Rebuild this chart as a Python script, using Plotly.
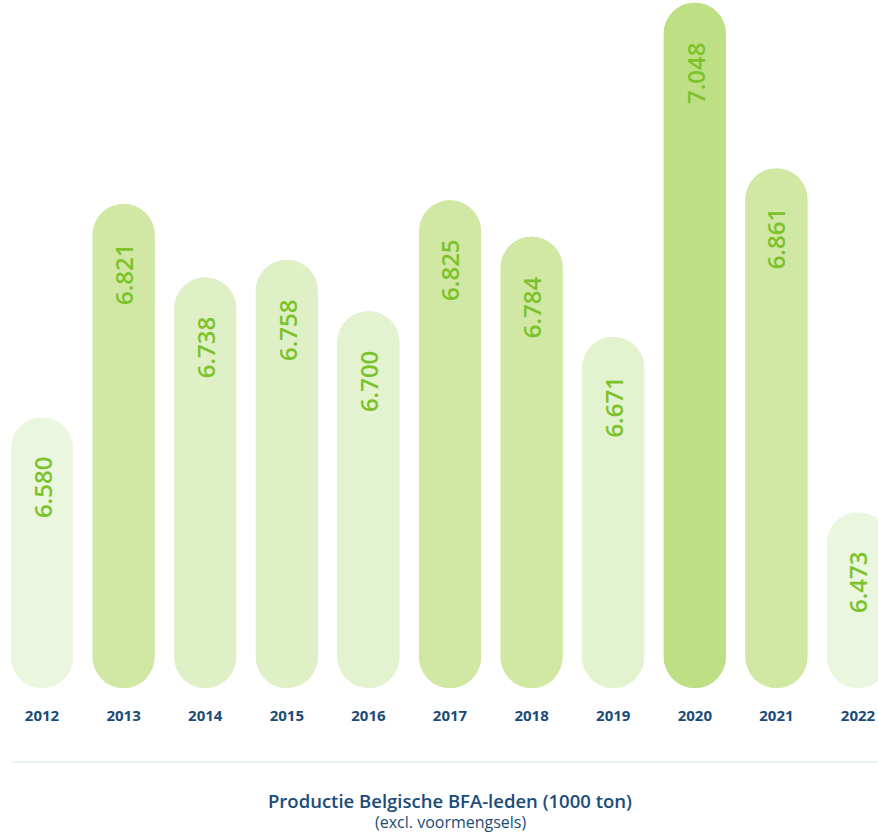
import plotly.graph_objects as go

years = ["2012", "2013", "2014", "2015", "2016", "2017", "2018", "2019", "2020", "2021", "2022"]
values = [6580, 6821, 6738, 6758, 6700, 6825, 6784, 6671, 7048, 6861, 6473]
labels = ["6.580", "6.821", "6.738", "6.758", "6.700", "6.825", "6.784", "6.671", "7.048", "6.861", "6.473"]
colors = ["#eaf6de", "#d0e8a3", "#dff0c6", "#dff0c6", "#e3f2cf", "#d0e8a3",
          "#d0e8a3", "#e3f2cf", "#bfdf85", "#d0e8a3", "#eaf6de"]

BASE = 6275
TOP = 7051
FONT = "Open Sans, sans-serif"

fig = go.Figure()
# upper part: rounded top end
fig.add_trace(go.Bar(
    x=years, y=[v - BASE for v in values], base=[BASE] * len(values),
    marker=dict(color=colors, cornerradius="50%", line=dict(width=0)),
    width=0.76, hoverinfo="skip", showlegend=False,
))
# lower part: rounded bottom end
fig.add_trace(go.Bar(
    x=years, y=[BASE - v for v in values], base=values,
    marker=dict(color=colors, cornerradius="50%", line=dict(width=0)),
    width=0.76, hoverinfo="skip", showlegend=False,
))

for i, (v, lab) in enumerate(zip(values, labels)):
    fig.add_annotation(
        x=i, y=v, text=lab, textangle=-90, showarrow=False,
        xanchor="center", yanchor="top", yshift=-38,
        font=dict(family=FONT, size=24, color="#7cc22b", weight=600),
    )

fig.add_shape(type="line", xref="paper", yref="paper",
              x0=12 / 878, x1=1, y0=-74 / 688, y1=-74 / 688,
              line=dict(color="#dff1f3", width=1.5))

fig.add_annotation(
    xref="paper", yref="paper", x=450 / 878, y=-112 / 688,
    text="Productie Belgische BFA-leden (1000 ton)", showarrow=False,
    xanchor="center", yanchor="middle",
    font=dict(family=FONT, size=18.5, color="#1b4b78", weight=600),
)
fig.add_annotation(
    xref="paper", yref="paper", x=450 / 878, y=-134 / 688,
    text="(excl. voormengsels)", showarrow=False,
    xanchor="center", yanchor="middle",
    font=dict(family=FONT, size=16, color="#1b4b78"),
)

fig.update_layout(
    width=878, height=832,
    margin=dict(l=0, r=0, t=0, b=144),
    paper_bgcolor="white", plot_bgcolor="white",
    barmode="overlay",
    xaxis=dict(type="category", range=[-0.515, 10.245], showgrid=False,
               zeroline=False, showline=False, ticks="",
               ticklabelstandoff=17,
               tickfont=dict(family=FONT, size=15, color="#1b4b78", weight="bold")),
    yaxis=dict(range=[BASE, TOP], visible=False, showgrid=False, zeroline=False),
)

fig.write_html(
    "out.html",
    config={"displayModeBar": False},
    post_script="document.body.style.margin='0';document.body.style.overflow='hidden';",
)
